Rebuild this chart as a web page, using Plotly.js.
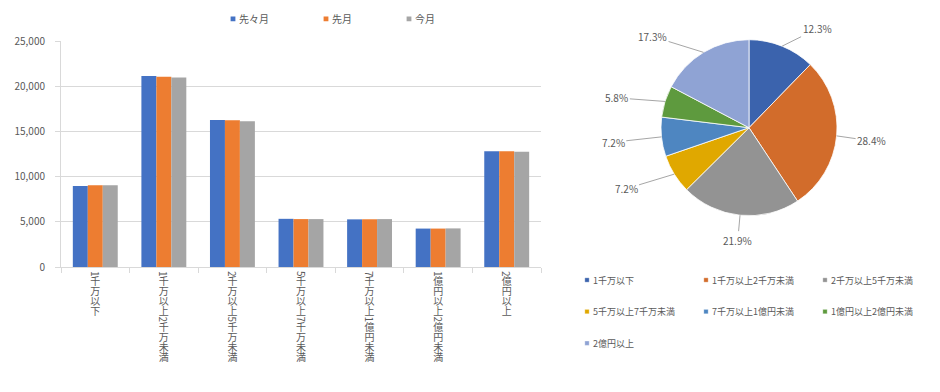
<!DOCTYPE html>
<html><head><meta charset="utf-8">
<script src="https://cdn.plot.ly/plotly-3.0.1.min.js"></script>
<style>
body{margin:0;background:#fff;}
#wrap{position:relative;width:940px;height:392px;overflow:hidden;}
#bar{position:absolute;left:0;top:0;width:545px;height:392px;}
#pie{position:absolute;left:545px;top:0;width:395px;height:392px;}
#bar .xtick text{writing-mode:vertical-rl;text-anchor:start !important;}
#bar .legendpoints path{transform:translate(52px,0) scale(0.4);}
#pie .legendpoints path{transform:translate(34px,0) scale(0.36);}
#pie .legendtext{font-size:9px !important;transform:translateY(-4.9px);}
#pie .legend .scrollbox{clip-path:none !important;}
</style>
</head><body>
<div id="wrap"><div id="bar"></div><div id="pie"></div></div>
<script>
// ---- data ----
const categories = ['1千万以下','1千万以上2千万未満','2千万以上5千万未満','5千万以上7千万未満','7千万以上1億円未満','1億円以上2億円未満','2億円以上'];
const seriesNames = ['先々月','先月','今月'];
const twoMonthsAgo = [8950, 21120, 16270, 5330, 5270, 4250, 12800];
const lastMonth    = [9050, 21050, 16240, 5300, 5280, 4250, 12800];
const thisMonth    = [9050, 20970, 16130, 5300, 5300, 4270, 12750];

// ---- styles ----
const barColors = ['#4472C4','#ED7D31','#A5A5A5'];
const pieColors = ['#3B63AD','#D26C2B','#939393','#E0A800','#4E86C1','#5E9A3E','#8FA3D4'];
const FONT = '"Noto Sans CJK JP", "Noto Sans", sans-serif';
const TXT = '#595959';

// ---- bar chart ----
const barSeries = [twoMonthsAgo, lastMonth, thisMonth];
const barTraces = barSeries.map((vals,i)=>({
  type:'bar', name:seriesNames[i], x:categories, y:vals,
  marker:{color:barColors[i]}, hoverinfo:'skip'
}));
const barLayout = {
  width:545, height:392, margin:{l:61,r:4,t:37,b:125},
  paper_bgcolor:'#fff', plot_bgcolor:'#fff',
  font:{family:FONT, color:TXT, size:10},
  barmode:'group', bargap:0.345, bargroupgap:0,
  xaxis:{type:'category', tickangle:0, ticks:'outside', ticklen:5, tickcolor:'#d9d9d9',
         tickson:'boundaries', showline:true, linecolor:'#d9d9d9', showgrid:false,
         automargin:false, ticklabelstandoff:-9, tickfont:{size:10,color:TXT}},
  yaxis:{range:[0,25000], dtick:5000, tickformat:',d', showgrid:true, gridcolor:'#d9d9d9',
         showline:true, linecolor:'#d9d9d9', ticks:'outside', ticklen:5, tickcolor:'#d9d9d9',
         zeroline:false, automargin:false, ticklabelstandoff:8, tickfont:{size:10,color:TXT}},
  legend:{orientation:'h', x:0.25, xanchor:'left', y:1.162, yanchor:'top', itemwidth:48,
          font:{size:10,color:TXT}, bgcolor:'rgba(0,0,0,0)'},
  showlegend:true
};
Plotly.newPlot('bar', barTraces, barLayout, {staticPlot:true, displayModeBar:false});

// ---- pie chart ----
const pieW = 395, pieH = 392, pieL = 8;
const gsW = pieW - pieL, gsH = pieH;
const pieDomX = [0.27907, 0.73385], pieDomY = [0.44974, 0.89872];
const R = Math.min((pieDomX[1]-pieDomX[0])*gsW, (pieDomY[1]-pieDomY[0])*gsH)/2;
const cxP = (pieDomX[0]+pieDomX[1])/2, cyP = (pieDomY[0]+pieDomY[1])/2;
const total = thisMonth.reduce((a,b)=>a+b,0);
let cum = 0;
const annotations = thisMonth.map(v=>{
  const mid = (cum + v/2)/total; cum += v;
  const th = mid*2*Math.PI, s = Math.sin(th), c = Math.cos(th);
  const label = (v/total*100).toFixed(1)+'%';
  const halfW = label.length*2.8;
  const ax = Math.abs(s) > 0.3 ? Math.sign(s)*((s>0 ? 21 : 37) + halfW) : s*22;
  const ay = -22*c + 3;
  return {xref:'paper', yref:'paper', x:cxP + R*s/gsW, y:cyP + R*c/gsH,
          text:label, showarrow:true, arrowhead:0, arrowwidth:1,
          arrowcolor:'#a6a6a6', standoff:0, ax:ax, ay:ay,
          font:{size:10,color:TXT,family:FONT}};
});
const pieTrace = {
  type:'pie', labels:categories, values:thisMonth, sort:false, direction:'clockwise',
  rotation:0, textinfo:'none', domain:{x:pieDomX, y:pieDomY},
  marker:{colors:pieColors, line:{color:'#ffffff', width:0.8}}, hoverinfo:'skip'
};
const pieLayout = {
  width:pieW, height:pieH, margin:{l:pieL,r:0,t:0,b:0},
  paper_bgcolor:'#fff', font:{family:FONT, color:TXT, size:10},
  annotations:annotations, showlegend:true,
  legend:{orientation:'h', x:0, xanchor:'left', y:0.3388, yanchor:'top',
          entrywidth:74, entrywidthmode:'pixels', font:{size:22,color:TXT},
          bgcolor:'rgba(0,0,0,0)'}
};
Plotly.newPlot('pie', [pieTrace], pieLayout, {staticPlot:true, displayModeBar:false});
</script>
</body></html>
